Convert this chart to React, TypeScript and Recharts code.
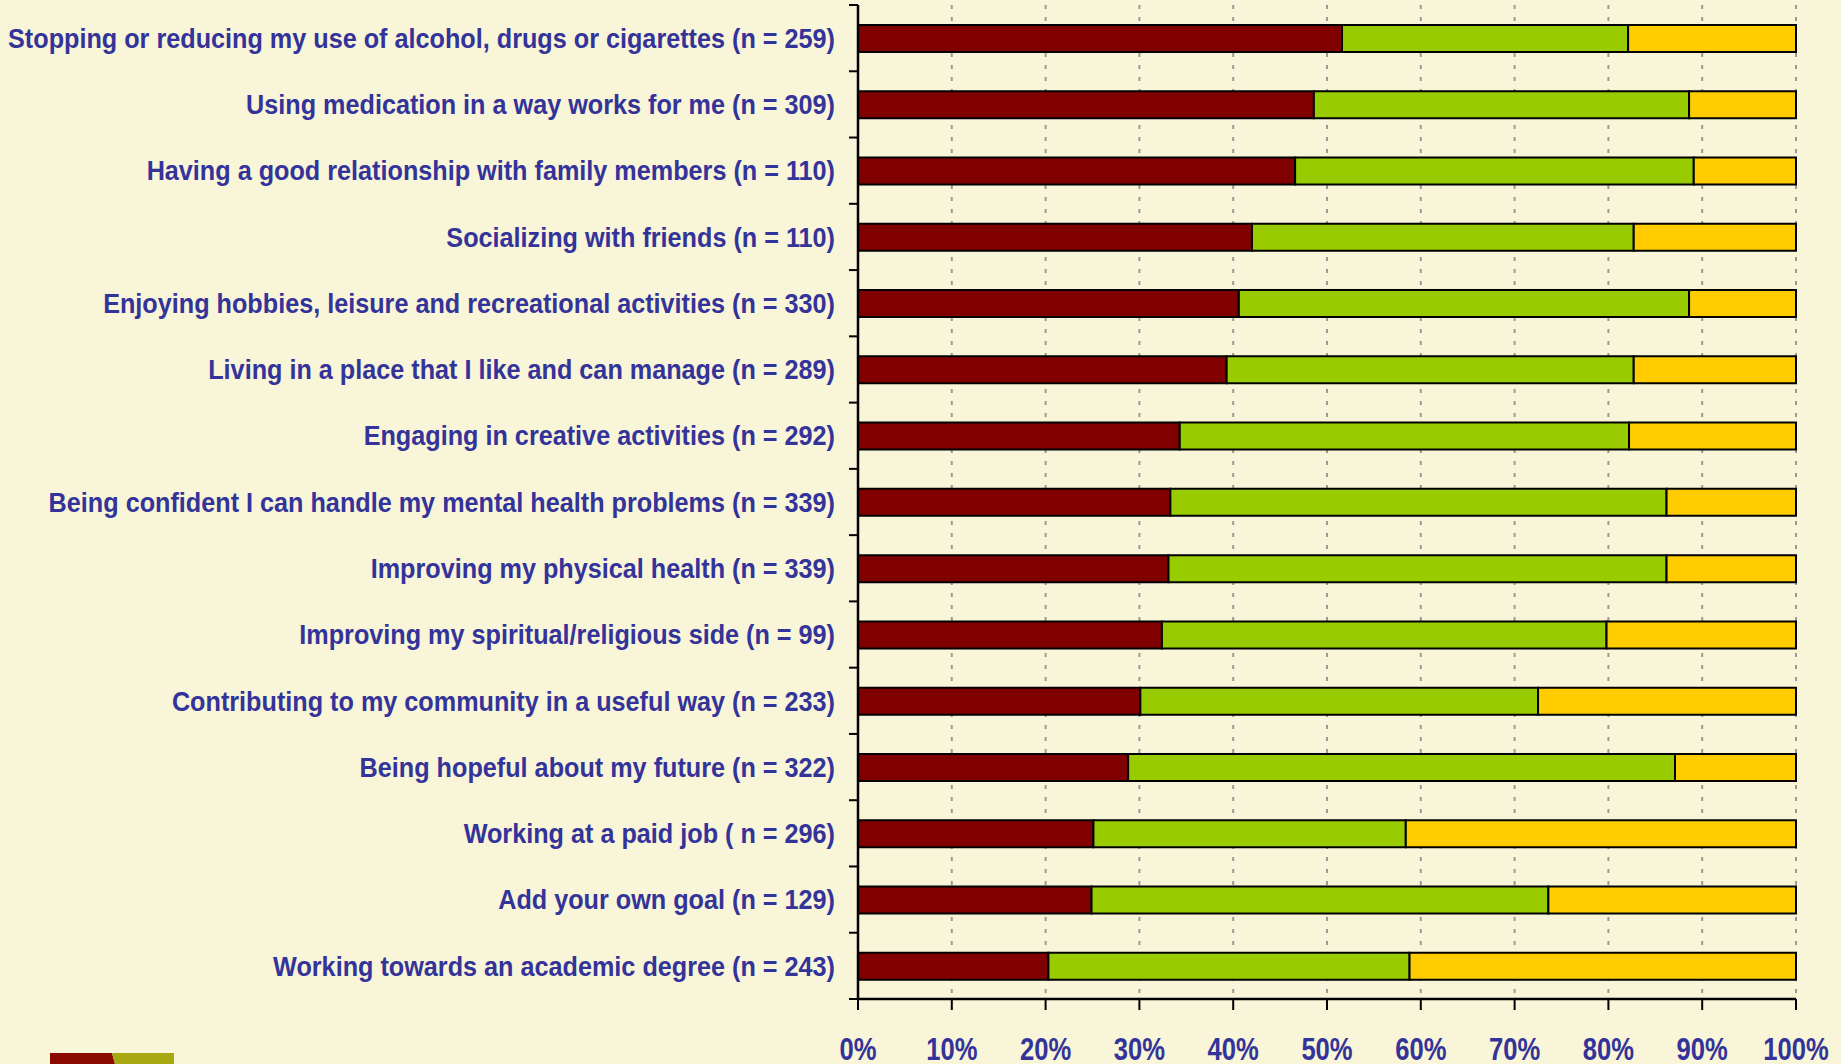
import React from "react";
import {
  BarChart,
  Bar,
  XAxis,
  YAxis,
  CartesianGrid
} from "recharts";

const categories = [
  "Stopping or reducing my use of alcohol, drugs or cigarettes (n = 259)",
  "Using medication in a way works for me (n = 309)",
  "Having a good relationship with family members (n = 110)",
  "Socializing with friends (n = 110)",
  "Enjoying hobbies, leisure and recreational activities (n = 330)",
  "Living in a place that I like and can manage (n = 289)",
  "Engaging in creative activities (n = 292)",
  "Being confident I can handle my mental health problems (n = 339)",
  "Improving my physical health (n = 339)",
  "Improving my spiritual/religious side (n = 99)",
  "Contributing to my community in a useful way (n = 233)",
  "Being hopeful about my future (n = 322)",
  "Working at a paid job ( n = 296)",
  "Add your own goal (n = 129)",
  "Working towards an academic degree (n = 243)"
];

const redValues = [51.6, 48.6, 46.6, 42.0, 40.6, 39.3, 34.3, 33.3, 33.1, 32.4, 30.1, 28.8, 25.1, 24.9, 20.3];
const greenValues = [30.5, 40.0, 42.5, 40.7, 48.0, 43.4, 47.9, 52.9, 53.1, 47.4, 42.4, 58.3, 33.3, 48.7, 38.5];
const yellowValues = [17.9, 11.4, 10.9, 17.3, 11.4, 17.3, 17.8, 13.8, 13.8, 20.2, 27.5, 12.9, 41.6, 26.4, 41.2];

const xTicks = [0, 10, 20, 30, 40, 50, 60, 70, 80, 90, 100];

const data = categories.map((label, i) => ({
  label,
  red: redValues[i],
  green: greenValues[i],
  yellow: yellowValues[i]
}));

const W = 1841;
const H = 1064;
const TOP = 5;
const BOTTOM_AXIS = 65;
const PLOT_H = H - TOP - BOTTOM_AXIS;
const BAND = PLOT_H / categories.length;
const TEXT = "#333399";
const FONT = "'Liberation Sans', Arial, sans-serif";

function YTick(props: any) {
  const { x, y, payload, index } = props;
  return (
    <g>
      <line x1={x - 9} x2={x} y1={y - BAND / 2} y2={y - BAND / 2} stroke="#000" strokeWidth={2} />
      {index === categories.length - 1 && (
        <line x1={x - 9} x2={x} y1={y + BAND / 2} y2={y + BAND / 2} stroke="#000" strokeWidth={2} />
      )}
      <text
        transform={`translate(${x - 23},${y}) scale(0.934,1)`}
        textAnchor="end"
        dy="0.36em"
        fill={TEXT}
        fontFamily={FONT}
        fontWeight="bold"
        fontSize={27}
      >
        {payload.value}
      </text>
    </g>
  );
}

function XTick(props: any) {
  const { x, y, payload } = props;
  return (
    <text
      transform={`translate(${x},${y + 50}) scale(0.8,1)`}
      textAnchor="middle"
      fill={TEXT}
      fontFamily={FONT}
      fontWeight="bold"
      fontSize={32}
    >
      {payload.value}%
    </text>
  );
}

export default function App() {
  return (
    <div
      style={{
        position: "absolute",
        left: 0,
        top: 0,
        width: W,
        height: H,
        background: "#f8f5d8",
        overflow: "hidden"
      }}
    >
      <BarChart
        width={W}
        height={H}
        data={data}
        layout="vertical"
        margin={{ top: TOP, right: 45, bottom: 0, left: 0 }}
        barSize={27}
      >
        <CartesianGrid
          horizontal={false}
          stroke="#999"
          strokeWidth={2}
          strokeDasharray="4 8"
        />
        <XAxis
          type="number"
          domain={[0, 100]}
          ticks={xTicks}
          height={BOTTOM_AXIS}
          axisLine={{ stroke: "#000", strokeWidth: 2.5 }}
          tickLine={{ stroke: "#000", strokeWidth: 2 }}
          tickSize={11}
          tickMargin={0}
          tick={<XTick />}
          interval={0}
        />
        <XAxis
          xAxisId="top"
          orientation="top"
          type="number"
          domain={[0, 100]}
          height={0}
          tick={false}
          tickLine={false}
          axisLine={{ stroke: "#000", strokeWidth: 2 }}
        />
        <YAxis
          type="category"
          dataKey="label"
          width={858}
          axisLine={{ stroke: "#000", strokeWidth: 2.5 }}
          tickLine={false}
          tickSize={0}
          tickMargin={0}
          tick={<YTick />}
          interval={0}
        />
        <YAxis
          yAxisId="right"
          orientation="right"
          type="category"
          dataKey="label"
          width={0}
          tick={false}
          tickLine={false}
          axisLine={{ stroke: "#222", strokeWidth: 2.5 }}
        />
        <Bar dataKey="red" stackId="s" fill="#800000" stroke="#000" strokeWidth={2} isAnimationActive={false} />
        <Bar dataKey="green" stackId="s" fill="#99cc00" stroke="#000" strokeWidth={2} isAnimationActive={false} />
        <Bar dataKey="yellow" stackId="s" fill="#ffcc00" stroke="#000" strokeWidth={2} isAnimationActive={false} />
      </BarChart>
      <svg
        width={200}
        height={20}
        style={{ position: "absolute", left: 0, top: H - 20 }}
      >
        <polygon points="50,9 112,9 115,20 50,20" fill="#8b0a00" />
        <polygon points="112,9 174,9 174,20 115,20" fill="#a8a812" />
      </svg>
    </div>
  );
}
